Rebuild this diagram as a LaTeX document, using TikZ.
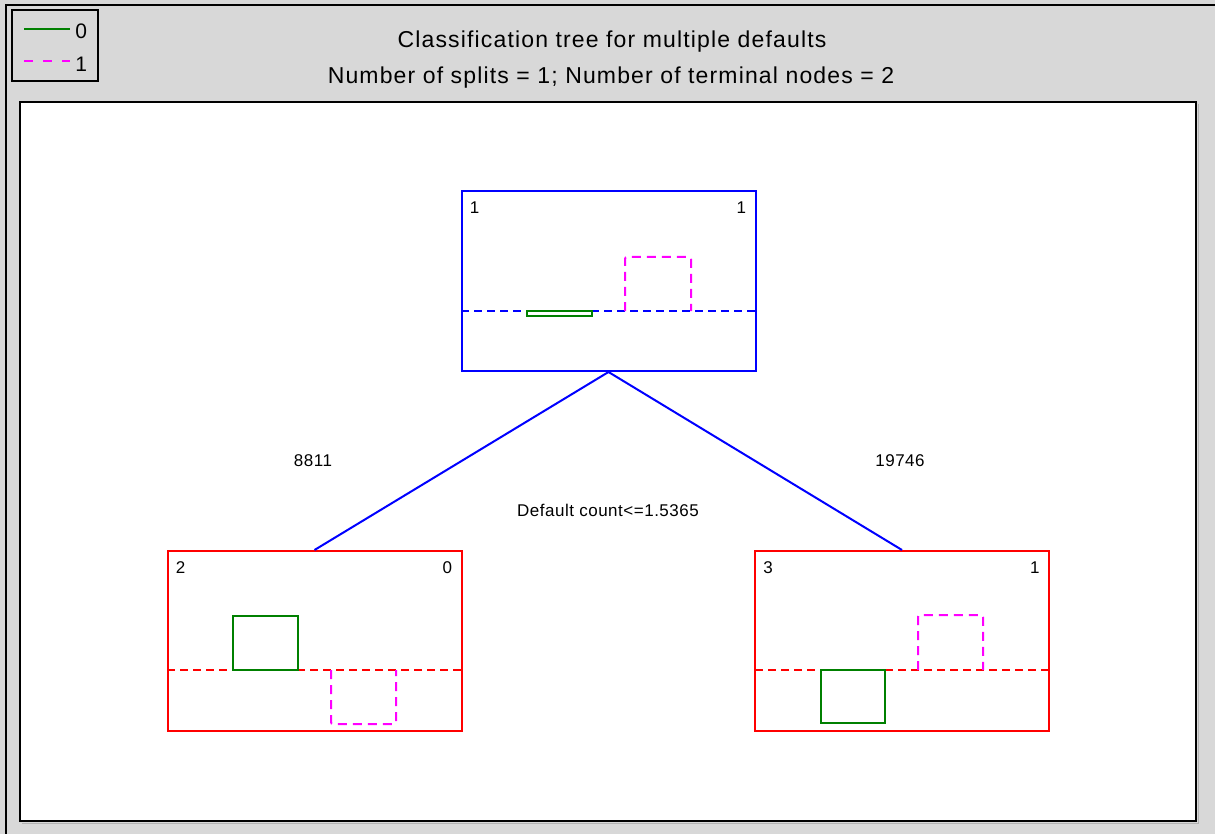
\documentclass[tikz,border=0pt]{standalone}
\usepackage{fontspec}
\setmainfont{Liberation Sans}
\newfontfamily\titlefont[LetterSpace=5]{Liberation Sans}
\newfontfamily\labelfont[LetterSpace=3]{Liberation Sans}
\usepackage{xcolor}
\definecolor{Panel Gray}{HTML}{D8D8D8}
\definecolor{Pure Blue}{HTML}{0000FF}
\definecolor{Pure Red}{HTML}{FF0000}
\definecolor{Class Green}{HTML}{008000}
\definecolor{Class Magenta}{HTML}{FF00FF}
\colorlet{cPanel}{Panel Gray}
\colorlet{cRoot}{Pure Blue}
\colorlet{cLeaf}{Pure Red}
\colorlet{c0}{Class Green}
\colorlet{c1}{Class Magenta}
\usetikzlibrary{positioning}
\tikzset{
	line width = 1pt,
	treebox/.style={
		draw,
		rectangle,
		minimum width=147pt,
		minimum height=90pt,
		inner sep=0pt,
		line width=1pt
	},
	splitline/.style={
		dash pattern=on 4pt off 2.5pt,
		line width=.9pt
	},
	bar0/.style={
		draw=c0,
		line width=1pt
	},
	bar1/.style={
		draw=c1,
		dash pattern=on 4.5pt off 3pt,
		rounded corners=1pt,
		line width=1pt
	},
	count/.style={
		font=\fontsize{8.5}{10}\selectfont,
		inner sep=0pt
	},
	key/.style={
		font=\fontsize{10.5}{12}\selectfont,
		inner sep=0pt,
		anchor=west
	},
	heading/.style={
		font=\titlefont\fontsize{11.5}{13}\selectfont
	},
	edge/.style={
		draw=cRoot,
		line width=1pt
	}
}

\begin{document}
\begin{tikzpicture}[x=.5pt, y=-.5pt, font=\labelfont\fontsize{8.5}{10}\selectfont]
		\fill[cPanel] (0,0) rectangle (1215,834);
		\useasboundingbox (0,0) rectangle (1215,834);
		\draw[line width=1.1pt] (6,834) -- (6,5) -- (1215,5);
		\draw[line width=1.1pt, fill=white] (20,102) rectangle (1196,821);
		\draw[gray!60, line width=.8pt] (1198.5,104) -- (1198.5,823.5) -- (22,823.5);

		% legend
		\node[draw, line width=1.2pt, minimum width=43pt, minimum height=35.5pt, inner sep=0pt] (legend) at (55,45.5) {};
		\draw[bar0] (24,29) -- (70,29);
		\draw[bar1, rounded corners=0pt, dash pattern=on 4.5pt off 5pt] (24,61) -- (70,61);
		\node[key] (key0) at (75,31) {0};
		\node[key] (key1) at (75,64) {1};

		\node[heading] (title) at (612,42) {Classification tree for multiple defaults};
		\node[heading] (subtitle) at (611,78) {Number of splits = 1; Number of terminal nodes = 2};

		% tree
		\node[treebox, draw=cRoot] (n1) at (608.5,281) {};
		\node[treebox, draw=cLeaf] (n2) at (314.5,641) {};
		\node[treebox, draw=cLeaf] (n3) at (902,641) {};

		\draw[edge] (n1.south) -- (n2.north);
		\draw[edge] (n1.south) -- (n3.north);

		\node[count, below right=5.5pt and 4.5pt of n1.north west] (n1id) {1};
		\node[count, below left=5.5pt and 5pt of n1.north east] (n1cl) {1};
		\node[count, below right=5.5pt and 4.5pt of n2.north west] (n2id) {2};
		\node[count, below left=5.5pt and 5pt of n2.north east] (n2cl) {0};
		\node[count, below right=5.5pt and 4.5pt of n3.north west] (n3id) {3};
		\node[count, below left=5.5pt and 5pt of n3.north east] (n3cl) {1};

		\draw[splitline, cRoot] (461,311) -- (756,311);
		\draw[bar0] (527,311) rectangle (592,316);
		\draw[bar1] (625,311) -- (625,257) -- (691,257) -- (691,311);

		\draw[splitline, cLeaf] (167,670) -- (462,670);
		\draw[bar0] (233,670) rectangle (298,616);
		\draw[bar1] (331,670) -- (331,724) -- (396,724) -- (396,670);

		\draw[splitline, cLeaf] (755,670) -- (1049,670);
		\draw[bar0] (821,670) rectangle (885,723);
		\draw[bar1] (918,670) -- (918,615) -- (983,615) -- (983,670);

		\node (w2) at (313,461) {8811};
		\node (w3) at (900,461) {19746};
		\node (rule) at (608,510) {Default count<=1.5365};
	\end{tikzpicture}
\end{document}
